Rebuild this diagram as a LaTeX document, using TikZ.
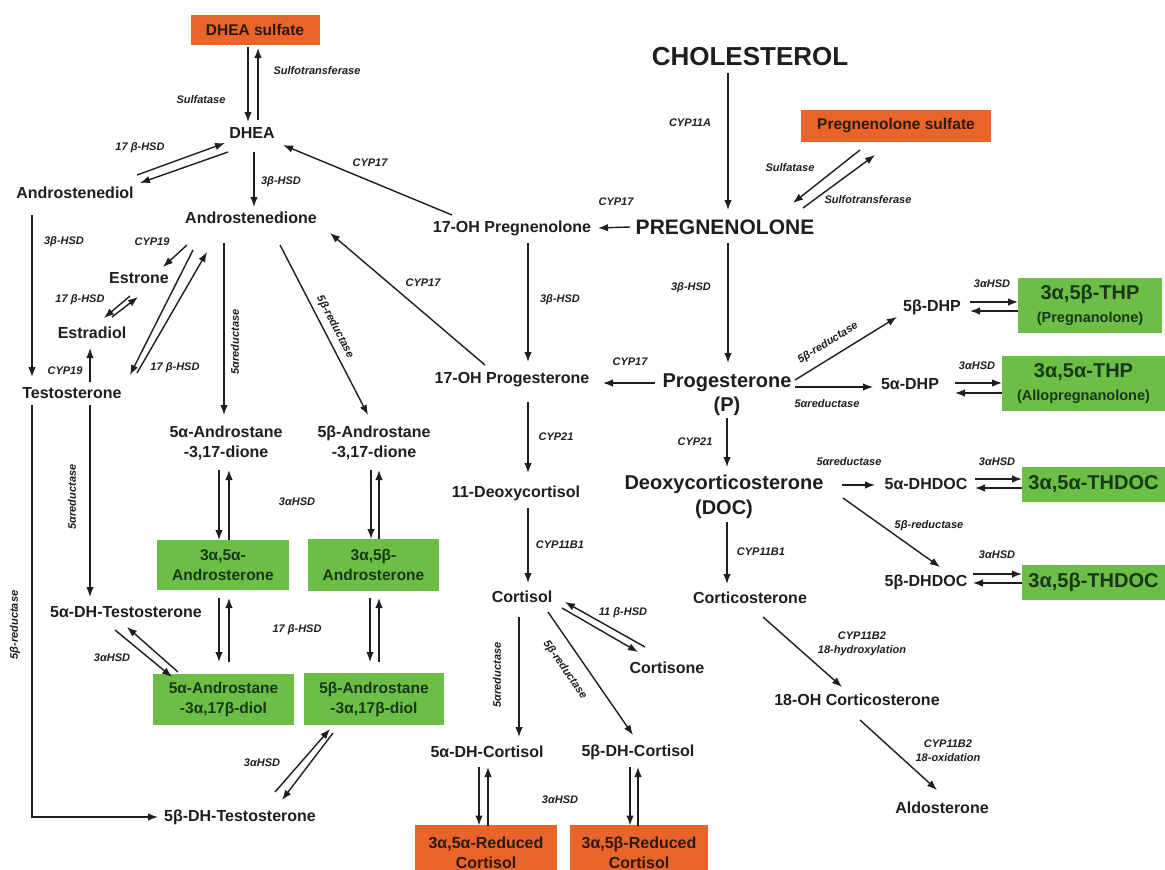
\documentclass[tikz,border=0pt]{standalone}
\usepackage{fontspec}
\setmainfont{Liberation Sans}
\usetikzlibrary{arrows.meta,calc}
\definecolor{orbox}{RGB}{232,100,40}
\definecolor{grbox}{RGB}{108,190,70}
\definecolor{grtext}{RGB}{25,55,25}
\definecolor{ortext}{RGB}{45,25,15}
\definecolor{ink}{RGB}{30,30,30}
\newcommand{\myfs}[2]{\fontsize{#1}{#2}\selectfont}
\begin{document}
\begin{tikzpicture}[x=1pt,y=-1pt,
  cmp/.style={font=\myfs{16}{20}\bfseries, text=ink, inner sep=1pt, align=center},
  enz/.style={font=\myfs{11}{14}\bfseries\itshape, text=ink, inner sep=0.5pt, align=center},
  obox/.style={fill=orbox, text=ortext, font=\myfs{15.5}{20}\bfseries, inner sep=0pt, align=center},
  gbox/.style={fill=grbox, text=grtext, font=\myfs{15.5}{20}\bfseries, inner sep=0pt, align=center},
  arr/.style={-{Latex[length=10pt,width=7.5pt]}, line width=1.4pt, draw=ink}]
\useasboundingbox (0,0) rectangle (1165,870);
\fill[white] (0,0) rectangle (1165,870);

% ---------- boxes ----------
\node[obox, minimum width=129pt, minimum height=30pt] (dheas) at (255,30) {DHEA sulfate};
\node[obox, minimum width=190pt, minimum height=32pt] (pregs) at (896,126) {Pregnenolone sulfate};
\node[obox, minimum width=142pt, minimum height=55pt, font=\myfs{16}{20}\bfseries] (redA) at (486,852.5) {3α,5α-Reduced\\Cortisol};
\node[obox, minimum width=138pt, minimum height=55pt, font=\myfs{16}{20}\bfseries] (redB) at (639,852.5) {3α,5β-Reduced\\Cortisol};

\node[gbox, minimum width=132pt, minimum height=50pt] (andA) at (223,565) {3α,5α-\\Androsterone};
\node[gbox, minimum width=131pt, minimum height=52pt] (andB) at (373.5,565) {3α,5β-\\Androsterone};
\node[gbox, minimum width=141pt, minimum height=51pt] (diolA) at (223.5,699.5) {5α-Androstane\\-3α,17β-diol};
\node[gbox, minimum width=140pt, minimum height=52pt] (diolB) at (374,699) {5β-Androstane\\-3α,17β-diol};
\node[gbox, minimum width=144pt, minimum height=55pt, font=\myfs{14.5}{23}\bfseries] (thpB) at (1090,305.5) {{\myfs{20}{23}3α,5β-THP}\\(Pregnanolone)};
\node[gbox, minimum width=163pt, minimum height=55pt, font=\myfs{14.5}{23}\bfseries] (thpA) at (1083.5,383.5) {{\myfs{20}{23}3α,5α-THP}\\(Allopregnanolone)};
\node[gbox, minimum width=143pt, minimum height=35pt, font=\myfs{20}{23}\bfseries] (thdocA) at (1093.5,484.5) {3α,5α-THDOC};
\node[gbox, minimum width=143pt, minimum height=35pt, font=\myfs{20}{23}\bfseries] (thdocB) at (1093.5,582.5) {3α,5β-THDOC};

% ---------- compounds ----------
\node[cmp, font=\myfs{26}{30}\bfseries] (chol) at (750,57) {CHOLESTEROL};
\node[cmp, font=\myfs{21}{24}\bfseries] (preg) at (725,227) {PREGNENOLONE};
\node[cmp, font=\myfs{20}{24}\bfseries] (prog) at (727,395) {Progesterone\\(P)};
\node[cmp, font=\myfs{20}{25}\bfseries] (doc) at (724,497) {Deoxycorticosterone\\(DOC)};
\node[cmp] (dhea) at (252,133) {DHEA};
\node[cmp] (adiol) at (75,193) {Androstenediol};
\node[cmp] (adione) at (251,218) {Androstenedione};
\node[cmp] (estrone) at (139,278) {Estrone};
\node[cmp] (estradiol) at (92,333) {Estradiol};
\node[cmp] (testo) at (72,393) {Testosterone};
\node[cmp] (aadione) at (226,443) {5α-Androstane\\-3,17-dione};
\node[cmp] (badione) at (374,443) {5β-Androstane\\-3,17-dione};
\node[cmp] (adht) at (126,612) {5α-DH-Testosterone};
\node[cmp] (bdht) at (240,817) {5β-DH-Testosterone};
\node[cmp] (ohpreg) at (512,228) {17-OH Pregnenolone};
\node[cmp] (ohprog) at (512,380) {17-OH Progesterone};
\node[cmp] (deoxy) at (516,493) {11-Deoxycortisol};
\node[cmp] (cortisol) at (522,597) {Cortisol};
\node[cmp] (cortisone) at (667,668) {Cortisone};
\node[cmp] (adhc) at (487,752) {5α-DH-Cortisol};
\node[cmp] (bdhc) at (638,752) {5β-DH-Cortisol};
\node[cmp] (cortico) at (750,598) {Corticosterone};
\node[cmp] (ohcort) at (857,700) {18-OH Corticosterone};
\node[cmp] (aldo) at (942,808) {Aldosterone};
\node[cmp] (bdhp) at (932,307) {5β-DHP};
\node[cmp] (adhp) at (910,384) {5α-DHP};
\node[cmp] (adhdoc) at (926,484) {5α-DHDOC};
\node[cmp] (bdhdoc) at (926,582) {5β-DHDOC};

% ---------- enzyme labels ----------
\node[enz] (e1) at (317,71) {Sulfotransferase};
\node[enz] (e2) at (201,100) {Sulfatase};
\node[enz] (e3) at (140,148) {17 β-HSD};
\node[enz] (e4) at (281,182) {3β-HSD};
\node[enz] (e5) at (370,163) {CYP17};
\node[enz] (e6) at (152,242) {CYP19};
\node[enz] (e7) at (64,242) {3β-HSD};
\node[enz] (e8) at (80,300) {17 β-HSD};
\node[enz] (e9) at (175,368) {17 β-HSD};
\node[enz] (e10) at (65,371) {CYP19};
\node[enz, rotate=90] (e11) at (72,497) {5αreductase};
\node[enz, rotate=90] (e12) at (235,342) {5αreductase};
\node[enz, rotate=-62.6] (e13) at (335,327) {5β-reductase};
\node[enz] (e14) at (297,502) {3αHSD};
\node[enz] (e15) at (112,658) {3αHSD};
\node[enz] (e16) at (297,630) {17 β-HSD};
\node[enz, rotate=90] (e17) at (15,625) {5β-reductase};
\node[enz] (e18) at (262,763) {3αHSD};
\node[enz] (e19) at (690,123) {CYP11A};
\node[enz] (e20) at (616,202) {CYP17};
\node[enz] (e21) at (423,283) {CYP17};
\node[enz] (e22) at (691,288) {3β-HSD};
\node[enz] (e23) at (560,300) {3β-HSD};
\node[enz] (e24) at (790,168) {Sulfatase};
\node[enz] (e25) at (868,200) {Sulfotransferase};
\node[enz] (e26) at (992,284) {3αHSD};
\node[enz, rotate=31.7] (e27) at (828,343) {5β-reductase};
\node[enz] (e28) at (827,404) {5αreductase};
\node[enz] (e29) at (977,366) {3αHSD};
\node[enz] (e30) at (630,362) {CYP17};
\node[enz] (e31) at (695,442) {CYP21};
\node[enz] (e32) at (556,437) {CYP21};
\node[enz] (e33) at (849,462) {5αreductase};
\node[enz] (e34) at (997,462) {3αHSD};
\node[enz] (e35) at (929,526) {5β-reductase};
\node[enz] (e36) at (997,555) {3αHSD};
\node[enz] (e37) at (761,552) {CYP11B1};
\node[enz] (e38) at (560,545) {CYP11B1};
\node[enz] (e39) at (862,644) {CYP11B2\\18-hydroxylation};
\node[enz] (e40) at (948,751) {CYP11B2\\18-oxidation};
\node[enz] (e41) at (623,613) {11 β-HSD};
\node[enz, rotate=90] (e42) at (497,675) {5αreductase};
\node[enz, rotate=-55.3] (e43) at (565,670) {5β-reductase};
\node[enz] (e44) at (560,800) {3αHSD};

% ---------- connectors ----------
% DHEA sulfate <-> DHEA
\draw[arr] ($(dheas)+(-7,17)$) -- ($(dhea)+(-4,-11)$);
\draw[arr] ($(dhea)+(6,-13)$) -- ($(dheas)+(3,18)$);
% DHEA <-> Androstenediol
\draw[arr] ($(adiol)+(62,-18)$) -- ($(dhea)+(-27,10)$);
\draw[arr] ($(dhea)+(-24,19)$) -- ($(adiol)+(65,-10)$);
% DHEA -> Androstenedione
\draw[arr] ($(dhea)+(2,19)$) -- ($(adione)+(3,-11)$);
% 17-OH Pregnenolone -> DHEA
\draw[arr] ($(ohpreg)+(-60,-13)$) -- ($(dhea)+(31,12)$);
% Pregnenolone -> 17-OH Pregnenolone
\draw[arr] ($(preg)+(-95,0)$) -- ($(ohpreg)+(86,0)$);
% Cholesterol -> Pregnenolone
\draw[arr] ($(chol)+(-22,16)$) -- ($(preg)+(3,-17)$);
% Pregnenolone sulfate <-> Pregnenolone
\draw[arr] ($(pregs)+(-36,24)$) -- ($(preg)+(68,-24)$);
\draw[arr] ($(preg)+(78,-19)$) -- ($(pregs)+(-21,29)$);
% Pregnenolone -> Progesterone
\draw[arr] ($(preg)+(3,16)$) -- ($(prog)+(1,-32)$);
% 17-OH Preg -> 17-OH Prog
\draw[arr] ($(ohpreg)+(16,15)$) -- ($(ohprog)+(16,-18)$);
% Progesterone -> 17-OH Prog
\draw[arr] ($(prog)+(-72,-12)$) -- ($(ohprog)+(91,3)$);
% 17-OH Prog -> Androstenedione
\draw[arr] ($(ohprog)+(-27,-15)$) -- ($(adione)+(79,15)$);
% Progesterone -> 5b-DHP, 5a-DHP
\draw[arr] ($(prog)+(68,-15)$) -- ($(bdhp)+(-35,10)$);
\draw[arr] ($(prog)+(68,-8)$) -- ($(adhp)+(-37,3)$);
% 5b-DHP <-> THP
\draw[arr] ($(bdhp)+(38,-5)$) -- ($(thpB)+(-72,-3.5)$);
\draw[arr] ($(thpB)+(-72,5.5)$) -- ($(bdhp)+(38,4)$);
% 5a-DHP <-> THP
\draw[arr] ($(adhp)+(45,-1)$) -- ($(thpA)+(-81.5,-0.5)$);
\draw[arr] ($(thpA)+(-81.5,9.5)$) -- ($(adhp)+(45,9)$);
% Progesterone -> DOC
\draw[arr] ($(prog)+(0,23)$) -- ($(doc)+(3,-30)$);
% DOC -> 5a-DHDOC
\draw[arr] ($(doc)+(118,-12)$) -- ($(adhdoc)+(-51,1)$);
\draw[arr] ($(adhdoc)+(49,-5)$) -- ($(thdocA)+(-71.5,-5.5)$);
\draw[arr] ($(thdocA)+(-71.5,3.5)$) -- ($(adhdoc)+(49,4)$);
% DOC -> 5b-DHDOC
\draw[arr] ($(doc)+(119,1)$) -- ($(bdhdoc)+(14,-15)$);
\draw[arr] ($(bdhdoc)+(47,-8)$) -- ($(thdocB)+(-71.5,-8.5)$);
\draw[arr] ($(thdocB)+(-71.5,0.5)$) -- ($(bdhdoc)+(47,1)$);
% DOC -> Corticosterone -> 18-OH -> Aldosterone
\draw[arr] ($(doc)+(3,25)$) -- ($(cortico)+(-23,-14)$);
\draw[arr] ($(cortico)+(13,19)$) -- ($(ohcort)+(-15,-13)$);
\draw[arr] ($(ohcort)+(3,20)$) -- ($(aldo)+(-5,-18)$);
% 17-OH Prog -> 11-Deoxycortisol -> Cortisol
\draw[arr] ($(ohprog)+(16,22)$) -- ($(deoxy)+(12,-20)$);
\draw[arr] ($(deoxy)+(12,15)$) -- ($(cortisol)+(6,-14)$);
% Cortisol <-> Cortisone
\draw[arr] ($(cortisol)+(40,11)$) -- ($(cortisone)+(-29,-16)$);
\draw[arr] ($(cortisone)+(-22,-21)$) -- ($(cortisol)+(43,5)$);
% Cortisol -> 5a/5b-DH-Cortisol
\draw[arr] ($(cortisol)+(-3,20)$) -- ($(adhc)+(32,-15)$);
\draw[arr] ($(cortisol)+(26,15)$) -- ($(bdhc)+(-5,-17)$);
% DH-Cortisol <-> reduced cortisol
\draw[arr] ($(adhc)+(-8,15)$) -- ($(redA)+(-7,-27)$);
\draw[arr] ($(redA)+(2,-27)$) -- ($(adhc)+(1,15)$);
\draw[arr] ($(bdhc)+(-8,15)$) -- ($(redB)+(-9,-27)$);
\draw[arr] ($(redB)+(-1,-27)$) -- ($(bdhc)+(0,15)$);
% Androstenedione -> Estrone
\draw[arr] ($(adione)+(-64,27)$) -- ($(estrone)+(24,-11)$);
% Estrone <-> Estradiol
\draw[arr] ($(estradiol)+(20,-16)$) -- ($(estrone)+(-1,19)$);
\draw[arr] ($(estrone)+(-9,18)$) -- ($(estradiol)+(12,-15)$);
% Androstenedione <-> Testosterone
\draw[arr] ($(adione)+(-58,32)$) -- ($(testo)+(58,-18)$);
\draw[arr] ($(testo)+(65,-20)$) -- ($(adione)+(-44,34)$);
% Androstenediol -> Testosterone
\draw[arr] ($(adiol)+(-43,22)$) -- ($(testo)+(-40,-16)$);
% Testosterone -> Estradiol
\draw[arr] ($(testo)+(18,-11)$) -- ($(estradiol)+(-2,15)$);
% Testosterone -> 5a-DH-Testosterone
\draw[arr] ($(testo)+(18,12)$) -- ($(adht)+(-36,-15)$);
% Testosterone -> 5b-DH-Testosterone
\draw[arr] ($(testo)+(-40,12)$) |- ($(bdht)+(-82,0)$);
% Androstenedione -> 5a/5b-Androstane-dione
\draw[arr] ($(adione)+(-27,25)$) -- ($(aadione)+(-2,-28)$);
\draw[arr] ($(adione)+(29,27)$) -- ($(badione)+(-6,-28)$);
% dione <-> androsterone
\draw[arr] ($(aadione)+(-7,27)$) -- ($(andA)+(-4,-25)$);
\draw[arr] ($(andA)+(6,-25)$) -- ($(aadione)+(3,27)$);
\draw[arr] ($(badione)+(-3,27)$) -- ($(andB)+(-2.5,-26)$);
\draw[arr] ($(andB)+(5.5,-26)$) -- ($(badione)+(5,27)$);
% androsterone <-> diol
\draw[arr] ($(andA)+(-4,33)$) -- ($(diolA)+(-4.5,-37.5)$);
\draw[arr] ($(diolA)+(5.5,-37.5)$) -- ($(andA)+(6,33)$);
\draw[arr] ($(andB)+(-3.5,33)$) -- ($(diolB)+(-4,-37)$);
\draw[arr] ($(diolB)+(5,-37)$) -- ($(andB)+(5.5,33)$);
% 5a-DH-Testosterone <-> 5a-diol
\draw[arr] ($(adht)+(-11,18)$) -- ($(diolA)+(-51.5,-22.5)$);
\draw[arr] ($(diolA)+(-45.5,-27.5)$) -- ($(adht)+(1,15)$);
% 5b-DH-Testosterone <-> 5b-diol
\draw[arr] ($(bdht)+(35,-25)$) -- ($(diolB)+(-44,30)$);
\draw[arr] ($(diolB)+(-41,34)$) -- ($(bdht)+(42,-17)$);
\end{tikzpicture}
\end{document}
